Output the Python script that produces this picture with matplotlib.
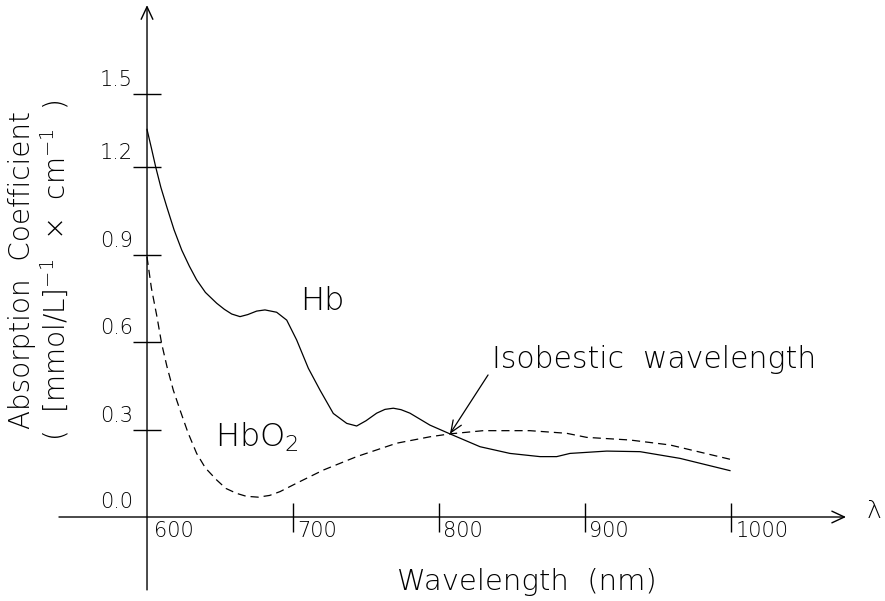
import numpy as np
import matplotlib.pyplot as plt

plt.rcParams['font.family'] = ['DejaVu Sans']
plt.rcParams['font.weight'] = 'light'
plt.rcParams['mathtext.default'] = 'regular'

# absorption of deoxygenated haemoglobin (solid)
hb_nm = [600, 603, 606, 609.5, 613.5, 618.5, 623.8, 629, 634, 640, 647.7, 653, 658,
         663.7, 669, 675.1, 680.8, 688.8, 695.7, 702.5, 710.5, 718.5, 727.6, 736.8,
         743.6, 750, 757.3, 763, 768.7, 774, 780.1, 793.8, 807.5, 828.1, 848.6,
         869.2, 880.6, 889.7, 914.9, 937.7, 965.1, 999.3]
hb_abs = [1.329, 1.265, 1.199, 1.130, 1.064, 0.985, 0.915, 0.860, 0.813, 0.770,
          0.733, 0.712, 0.696, 0.687, 0.694, 0.706, 0.710, 0.702, 0.675, 0.607,
          0.510, 0.435, 0.355, 0.321, 0.312, 0.330, 0.356, 0.369, 0.373, 0.368,
          0.356, 0.315, 0.285, 0.241, 0.218, 0.207, 0.207, 0.218, 0.226, 0.224,
          0.201, 0.159]

# absorption of oxygenated haemoglobin (dashed)
hbo2_nm = [600, 603, 606.8, 610, 613.7, 618, 622.6, 628, 634.0, 640, 647.7, 654,
           661.4, 668, 676.2, 684, 691.1, 702.5, 720.8, 743.6, 771.0, 793.8, 807.5,
           830.3, 862.3, 887.4, 901.2, 930.8, 958.2, 999.3]
hbo2_abs = [0.892, 0.785, 0.687, 0.595, 0.515, 0.435, 0.367, 0.290, 0.218, 0.168,
            0.127, 0.098, 0.081, 0.071, 0.068, 0.074, 0.087, 0.116, 0.161, 0.207,
            0.253, 0.275, 0.285, 0.296, 0.296, 0.287, 0.273, 0.264, 0.247, 0.198]

xtick_vals = [700, 800, 900, 1000]
xtick_labels = ['700', '800', '900', '1000']
ytick_vals = [0.3, 0.6, 0.9, 1.2, 1.45]   # the 1.5 mark sits a little low in the original
ytick_labels = ['0.3', '0.6', '0.9', '1.2', '1.5']

fig = plt.figure(figsize=(8.85, 6.01), dpi=100)
ax = fig.add_axes([0, 0, 1, 1])
ax.set_xlim(499.3, 1105.5)
ax.set_ylim(-0.288, 1.7726)
ax.axis('off')

# axes with open arrow heads
head = dict(arrowstyle='->,head_length=0.9,head_width=0.42', lw=1.0, color='black',
            shrinkA=0, shrinkB=0, mutation_scale=10)
ax.annotate('', xy=(600, 1.755), xytext=(600, -0.25), arrowprops=head)
ax.annotate('', xy=(1078.8, 0), xytext=(539.7, 0), arrowprops=head)

ax.vlines(xtick_vals, -0.05, 0.048, color='black', lw=1.0)
ax.hlines(ytick_vals, 590.4, 609.6, color='black', lw=1.0)

for v, lab in zip(xtick_vals, xtick_labels):
    ax.text(v + 3.0, -0.047, lab, fontsize=15, ha='left', va='center')
ax.text(604.5, -0.047, '600', fontsize=15, ha='left', va='center')
for v, lab in zip(ytick_vals, ytick_labels):
    ax.text(590.4, v + 0.048, lab, fontsize=15, ha='right', va='center')
ax.text(590.4, 0.051, '0.0', fontsize=15, ha='right', va='center')

ax.plot(hb_nm, hb_abs, color='black', lw=0.9)
ax.plot(hbo2_nm, hbo2_abs, color='black', lw=0.9, dashes=(6.5, 4))

ax.text(719.9, 0.739, 'Hb', fontsize=23, ha='center', va='center')
ax.text(646.6, 0.243, 'HbO$_2$', fontsize=23, ha='left', va='baseline')

ax.annotate('', xy=(807.5, 0.285), xytext=(833.6, 0.487),
            arrowprops=dict(arrowstyle='->,head_length=0.85,head_width=0.35', lw=0.9,
                            color='black', shrinkA=0, shrinkB=0, mutation_scale=10))
ax.text(836.3, 0.511, 'Isobestic  wavelength', fontsize=21.5, ha='left', va='baseline')

ax.text(1097.9, 0.021, 'λ', fontsize=18, ha='center', va='center')
ax.text(860.3, -0.250, 'Wavelength  (nm)', fontsize=21, ha='center', va='baseline')

ax.text(514.4, 0.847, 'Absorption  Coefficient', fontsize=20, rotation=90,
        ha='center', va='center')
ax.text(537.0, 0.847, '(  [mmol/L]$^{-1}$  ×  cm$^{-1}$  )', fontsize=20, rotation=90,
        ha='center', va='center')

fig.savefig('out.png', dpi=100)
